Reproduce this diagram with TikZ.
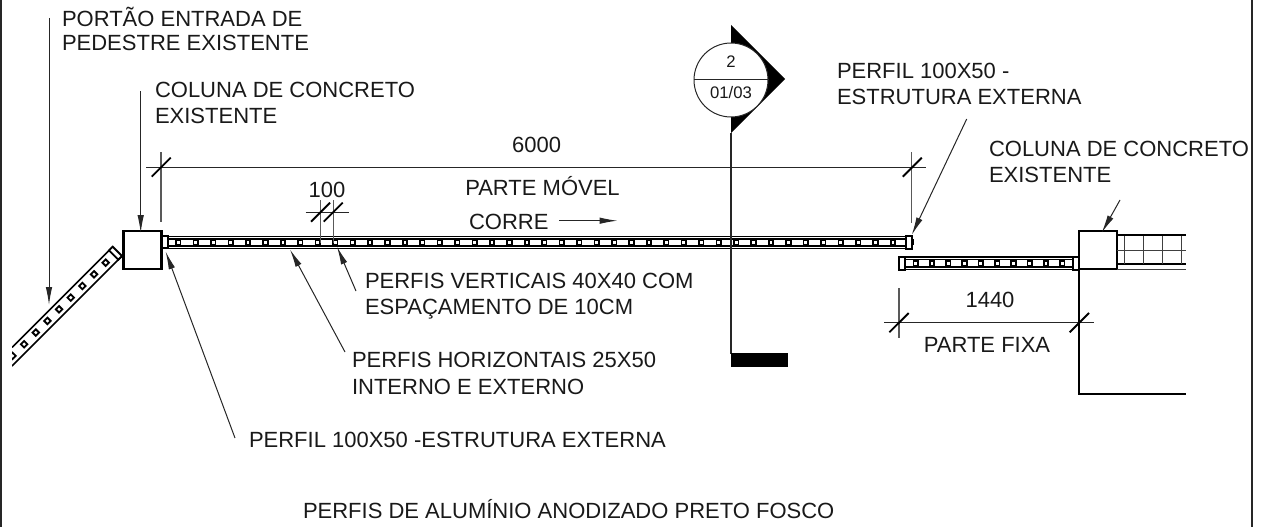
\documentclass[tikz,border=0pt]{standalone}
\usepackage{fontspec}
\setmainfont{Liberation Sans}
\usetikzlibrary{arrows.meta}
\tikzset{
  x=1pt,y=-1pt,
  lab/.style={anchor=base west,inner sep=0pt,outer sep=0pt,font=\fontsize{22}{24}\selectfont,text=black!90},
  labc/.style={anchor=base,inner sep=0pt,outer sep=0pt,font=\fontsize{22}{24}\selectfont,text=black!90},
  labs/.style={anchor=base,inner sep=0pt,outer sep=0pt,font=\fontsize{16.7}{18}\selectfont,text=black!90},
  leader/.style={draw=black!85,line width=1pt,-{Latex[length=18pt,width=6.5pt]}},
  rail/.style={draw=black,line width=1.6pt},
  thinl/.style={draw=black!75,line width=1pt},
  tick/.style={draw=black,line width=1.9pt},
  ext/.style={draw=black!65,line width=1.1pt},
  dim/.style={draw=black!85,line width=1pt},
  sq/.style={draw=black,line width=1.7pt,fill=white},
  post/.style={draw=black,line width=1.9pt,fill=white},
}
\begin{document}
\begin{tikzpicture}
\useasboundingbox (0,0) rectangle (1261,527);
% frame
\draw[black!85,line width=2.2pt] (1,0) -- (1,527);
\draw[black!85,line width=2pt] (1251.5,0) -- (1251.5,527);

% diagonal panel (left)
\begin{scope}
\clip (12,200) rectangle (130,400);
\draw[rail] (112.7,246.7) -- (12,347.4);
\draw[rail] (122,256) -- (12,366);
\draw[post,fill=white] (112.7,246.7) -- (122,256) -- (118.3,259.7) -- (109,250.4) -- cycle;
\foreach \i in {0,...,8}{
  \draw[sq,line width=1.9pt,rotate around={45:(105.7-11.65*\i,262.7+11.65*\i)}]
    (103.4-11.65*\i,260.4+11.65*\i) rectangle (108-11.65*\i,265+11.65*\i);
}
\end{scope}

% left column
\node[draw=black,line width=2.2pt,minimum width=38pt,minimum height=38pt,inner sep=0pt,fill=white] (colL) at (142.5,250) {};

% moving gate
\draw[rail] (168,236.3) -- (912,236.3);
\draw[rail] (168,238.7) -- (906,238.7);
\draw[rail] (168,246) -- (906,246);
\draw[rail] (168,248.4) -- (912,248.4);
\foreach \i in {0,...,42}{
  \draw[sq] (176.1+17.43*\i,240.1) rectangle ++(4.5,4.5);
}
\draw[post] (162.5,236.3) rectangle (168,248.4);
\draw[post] (906,236) rectangle (912,248.6);
\coordinate (gateL) at (165.6,251.5);
\coordinate (gateR) at (911.7,235);

% fixed part
\draw[rail] (905,257) -- (1073,257);
\draw[rail] (905,259.6) -- (1073,259.6);
\draw[rail] (905,266.8) -- (1073,266.8);
\draw[rail] (905,269.3) -- (1073,269.3);
\foreach \i in {0,...,9}{
  \draw[sq] (913.4+16.3*\i,261) rectangle ++(4.5,4.5);
}
\draw[post] (899,256.7) rectangle (905.3,269.6);
\draw[post] (1073,256.7) rectangle (1079,269.6);

% right column and fence
\node[draw=black,line width=2.2pt,minimum width=38pt,minimum height=38.3pt,inner sep=0pt,fill=white] (colR) at (1098,249.9) {};
\draw[rail] (1117,235) -- (1186,235);
\draw[thinl] (1117,250.7) -- (1186,250.7);
\draw[rail] (1117,263.8) -- (1186,263.8);
\draw[thinl] (1117,269) -- (1186,269);
\foreach \x in {1124.3,1143.3,1162.3,1181.3}{\draw[thinl] (\x,236) -- (\x,264);}
\draw[draw=black,line width=1.1pt] (1079,269) -- (1079,394) -- (1186,394);

% section mark
\fill[black] (731,25) -- (785,79) -- (731,133) -- cycle;
\node[draw=black!85,line width=1pt,fill=white,circle,minimum size=74pt,inner sep=0pt] (sec) at (731,80) {};
\draw[black!85,line width=1pt] (sec.west) -- (sec.east);
\draw[black!85,line width=1.2pt] (731,133) -- (731,354);
\fill[black] (731,353) rectangle (788,367);
\node[labs] at (731,68) {2};
\node[labs] at (731,98) {01/03};

% dimension 6000
\draw[ext] (161,152) -- (161,222);
\draw[ext] (911.7,152) -- (911.7,223);
\draw[dim] (146,167.5) -- (926,167.5);
\draw[tick] (151.7,176.7) -- (170.7,157.7);
\draw[tick] (902.7,176.7) -- (921.7,157.7);
% dimension 100
\draw[ext] (320.7,200) -- (320.7,243);
\draw[ext] (333.3,200) -- (333.3,243);
\draw[dim] (305.5,212) -- (348.5,212);
\draw[tick] (311,221.7) -- (330,202.7);
\draw[tick] (323.7,221.7) -- (342.7,202.7);
% dimension 1440
\draw[ext] (899,288) -- (899,337.7);
\draw[dim] (884,322.7) -- (1094,322.7);
\draw[tick] (889.3,332.3) -- (908.7,313);
\draw[tick] (1069.6,332.3) -- (1089,313);

% leaders
\coordinate (a1) at (49,18);   \coordinate (a1t) at (49,305);
\coordinate (a2) at (140.7,91); \coordinate (a2t) at (140.7,233);
\coordinate (a3) at (235,438);
\coordinate (a4) at (345,352); \coordinate (a4t) at (290,249.5);
\coordinate (a5) at (356,291); \coordinate (a5t) at (337,246.7);
\coordinate (a6) at (966.7,119);
\coordinate (a7) at (1120,200); \coordinate (a7t) at (1101.7,232.7);
\coordinate (a8) at (559.3,220.7); \coordinate (a8t) at (617.5,220.7);
\draw[leader] (a1) -- (a1t);
\draw[leader] (a2) -- (a2t);
\draw[leader] (a3) -- (gateL);
\draw[leader] (a4) -- (a4t);
\draw[leader] (a5) -- (a5t);
\draw[leader] (a6) -- (gateR);
\draw[leader] (a7) -- (a7t);
\draw[leader] (a8) -- (a8t);

% labels
\node[lab] at (62,27) {PORTÃO ENTRADA DE};
\node[lab] at (62,50.5) {PEDESTRE EXISTENTE};
\node[lab] at (155,97) {COLUNA DE CONCRETO};
\node[lab] at (155,123) {EXISTENTE};
\node[lab] at (837,78) {PERFIL 100X50 -};
\node[lab] at (837,104) {ESTRUTURA EXTERNA};
\node[lab] at (989,156) {COLUNA DE CONCRETO};
\node[lab] at (989,182) {EXISTENTE};
\node[labc] at (536.7,152) {6000};
\node[labc] at (542.5,195) {PARTE MÓVEL};
\node[lab] at (469,229) {CORRE};
\node[labc] at (327,197) {100};
\node[lab] at (365,288) {PERFIS VERTICAIS 40X40 COM};
\node[lab] at (365,314) {ESPAÇAMENTO DE 10CM};
\node[lab] at (352,367) {PERFIS HORIZONTAIS 25X50};
\node[lab] at (352,394) {INTERNO E EXTERNO};
\node[lab] at (249,447) {PERFIL 100X50 -ESTRUTURA EXTERNA};
\node[labc] at (990,307) {1440};
\node[labc] at (987,352) {PARTE FIXA};
\node[lab] at (303,518) {PERFIS DE ALUMÍNIO ANODIZADO PRETO FOSCO};
\end{tikzpicture}
\end{document}
